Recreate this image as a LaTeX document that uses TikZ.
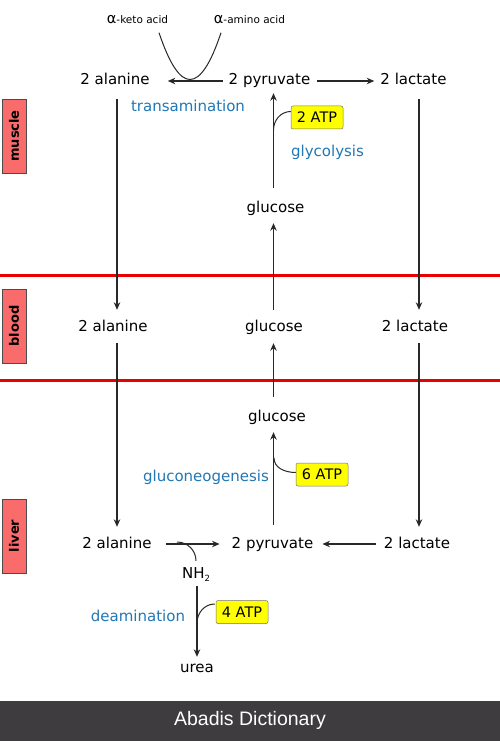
\documentclass[tikz,border=0pt]{standalone}
\usepackage{fontspec}
\setmainfont{DejaVu Sans}
\newfontfamily\footfont{Liberation Sans}
\usetikzlibrary{arrows.meta}
\definecolor{procblue}{RGB}{33,120,180}
\definecolor{sidered}{RGB}{250,108,108}
\definecolor{atpyellow}{RGB}{255,255,0}
\definecolor{linered}{RGB}{232,0,0}
\definecolor{footgray}{RGB}{62,60,62}
\definecolor{arrgray}{RGB}{40,40,40}
\tikzset{
  lbl/.style={font=\fontsize{15}{18}\selectfont, text height=11pt, text depth=3pt, inner sep=0pt},
  proc/.style={lbl, text=procblue},
  small/.style={font=\fontsize{10.5}{12}\selectfont, text height=8.5pt, text depth=2.5pt, inner sep=0pt},
  atp/.style={draw=black!55, line width=0.5pt, fill=atpyellow, rounded corners=2pt, minimum width=52pt, minimum height=23pt, inner sep=0pt, font=\fontsize{14.5}{17}\selectfont},
  sidebox/.style={draw=black!70, line width=0.8pt, fill=sidered, rotate=90, minimum width=74pt, minimum height=24pt, inner sep=0pt, font=\bfseries\fontsize{13}{15}\selectfont},
  arr/.style={draw=arrgray, line width=1.1pt, -{Stealth[length=7.5pt,width=6.5pt]}},
  plain/.style={draw=arrgray, line width=1pt},
  redline/.style={draw=linered, line width=3pt}
}
\begin{document}
\begin{tikzpicture}[x=1pt,y=-1pt]
\useasboundingbox (0,0) rectangle (500,741);
\fill[white] (0,0) rectangle (500,741);

% columns
\coordinate (colA) at (117,0);
\coordinate (colG) at (273.5,0);
\coordinate (colL) at (419,0);
\coordinate (colN) at (197,0);

% side labels
\node[sidebox] (smus) at (14,136) {muscle};
\node[sidebox] (sblo) at (14,326) {blood};
\node[sidebox] (sliv) at (14,536) {liver};

% separators
\draw[redline] (0,275) -- (500,275);
\draw[redline] (0,380) -- (500,380);

% muscle
\node[small] (ka) at (137.5,21) {{\fontsize{14.5}{14}\selectfont α}-keto acid};
\node[small] (aa) at (249.5,21) {{\fontsize{14.5}{14}\selectfont α}-amino acid};
\node[lbl] (mal) at (115,81) {2 alanine};
\node[lbl] (mpy) at (269.5,81) {2 pyruvate};
\node[lbl] (mla) at (413.5,81) {2 lactate};
\node[proc] (trans) at (188,108) {transamination};
\node[atp] (atp2) at (317,117.5) {2 ATP};
\node[proc] (glyc) at (327.5,153) {glycolysis};
\node[lbl] (mgl) at (275.5,208) {glucose};

% blood
\node[lbl] (bal) at (113,327) {2 alanine};
\node[lbl] (bgl) at (274,327) {glucose};
\node[lbl] (bla) at (415,327) {2 lactate};

% liver
\node[lbl] (lgl) at (277,417) {glucose};
\node[atp] (atp6) at (322,474.5) {6 ATP};
\node[proc] (gneo) at (206,477) {gluconeogenesis};
\node[lbl] (lal) at (117,544) {2 alanine};
\node[lbl] (lpy) at (272.5,544) {2 pyruvate};
\node[lbl] (lla) at (417,544) {2 lactate};
\node[lbl] (nh) at (196,574) {NH\raisebox{-3pt}{\fontsize{8.5}{9}\selectfont 2}};
\node[proc] (deam) at (138,617) {deamination};
\node[atp] (atp4) at (242,612) {4 ATP};
\node[lbl] (urea) at (197,668) {urea};

% junction coordinates
\coordinate (tb) at (190,79.5);
\coordinate (j2) at (273.5,130);
\coordinate (j6) at (274,458);
\coordinate (jn) at (177,542);
\coordinate (j4) at (197,623);

% muscle connectors
\draw[arr] ([xshift=-6pt]mpy.west) -- ([xshift=18pt]mal.east);
\draw[arr] ([xshift=7pt]mpy.east) -- ([xshift=-6pt]mla.west);
\draw[plain] ([xshift=21.5pt,yshift=-6pt]ka.south) .. controls (169.5,63.8) and (179.7,79.5) .. (tb) .. controls (200.3,79.5) and (210.7,63.8) .. ([xshift=-28.5pt,yshift=-6pt]aa.south);
\draw[arr] ([yshift=13pt]mgl.north -| colG) -- ([yshift=-5pt]mpy.south -| colG);
\draw[plain] ([yshift=6pt]atp2.west) to[out=180,in=90] (j2);

% muscle -> blood
\draw[arr] ([yshift=-11pt]mal.south -| colA) -- ([yshift=10pt]bal.north -| colA);
\draw[arr] ([yshift=-11pt]mla.south -| colL) -- ([yshift=10pt]bla.north -| colL);
\draw[arr] ([yshift=10pt]bgl.north -| colG) -- ([yshift=-8pt]mgl.south -| colG);

% blood -> liver
\draw[arr] ([yshift=-9pt]bal.south -| colA) -- ([yshift=10pt]lal.north -| colA);
\draw[arr] ([yshift=-9pt]bla.south -| colL) -- ([yshift=10pt]lla.north -| colL);
\draw[arr] ([yshift=13pt]lgl.north -| colG) -- ([yshift=-9pt]bgl.south -| colG);

% liver connectors
\draw[arr] ([yshift=12pt]lpy.north -| colG) -- ([yshift=-8pt]lgl.south -| colG);
\draw[plain] ([yshift=2pt]atp6.west) to[out=180,in=-90] (j6);
\draw[arr] ([xshift=14pt]lal.east) -- ([xshift=-12pt]lpy.west);
\draw[arr] ([xshift=-8pt]lla.west) -- ([xshift=9pt]lpy.east);
\draw[plain] (jn) to[out=0,in=90] ([yshift=6pt]nh.north);
\draw[arr] ([yshift=-5pt]nh.south -| colN) -- ([yshift=4pt]urea.north -| colN);
\draw[plain] ([yshift=8pt,xshift=-1pt]atp4.west) to[out=180,in=90] (j4);

% footer
\fill[footgray] (0,701) rectangle (500,741);
\node[text=white, font=\footfont\fontsize{19.5}{22}\selectfont, inner sep=0pt] (foot) at (250,720) {Abadis Dictionary};
\end{tikzpicture}
\end{document}
